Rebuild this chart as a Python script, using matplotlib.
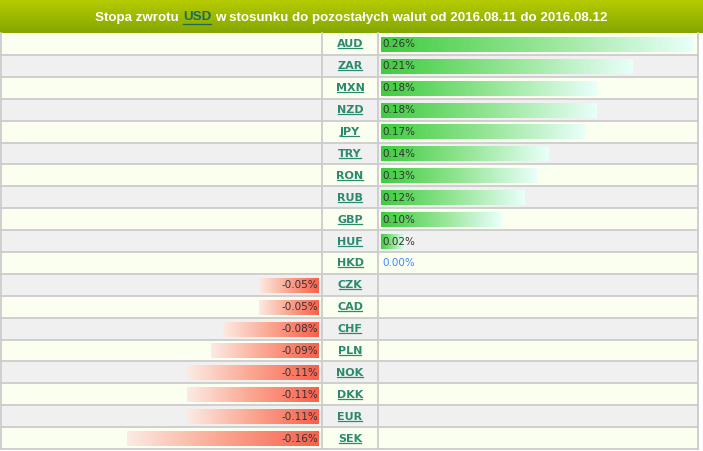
import numpy as np
import matplotlib.pyplot as plt
from matplotlib.colors import LinearSegmentedColormap

# dane: stopa zwrotu USD wzgledem walut
currencies = ['AUD', 'ZAR', 'MXN', 'NZD', 'JPY', 'TRY', 'RON', 'RUB', 'GBP', 'HUF',
              'HKD', 'CZK', 'CAD', 'CHF', 'PLN', 'NOK', 'DKK', 'EUR', 'SEK']
returns = [0.26, 0.21, 0.18, 0.18, 0.17, 0.14, 0.13, 0.12, 0.10, 0.02,
           0.00, -0.05, -0.05, -0.08, -0.09, -0.11, -0.11, -0.11, -0.16]
title_parts = ['Stopa zwrotu', 'USD', 'w stosunku do pozostałych walut od 2016.08.11 do 2016.08.12']

W, H = 703, 451
head_h = 33
row_h = 21.9
left, right = 1, 698
col1, col2 = 322, 378
scale = 1200  # px na 1%

green = LinearSegmentedColormap.from_list('g', ['#3fcc3f', '#93e593', '#e9fffa'])
red = LinearSegmentedColormap.from_list('r', ['#fbebe4', '#fba58f', '#f8604c'])
grad = np.linspace(0, 1, 256).reshape(1, -1)

fig = plt.figure(figsize=(W / 100, H / 100), dpi=100)
ax = fig.add_axes([0, 0, 1, 1])
ax.axis('off')

# naglowek
hgrad = np.linspace(0, 1, 64).reshape(-1, 1)
head_cmap = LinearSegmentedColormap.from_list('h', ['#b6cc00', '#84a600'])
ax.imshow(hgrad, cmap=head_cmap, aspect='auto', extent=(0, W, head_h, 0), zorder=1)

lc = '#cccccc'
for i, (cur, val) in enumerate(zip(currencies, returns)):
    y0 = head_h + i * row_h
    bg = '#fafff0' if i % 2 == 0 else '#f0f0f0'
    ax.fill_between([left, right], y0, y0 + row_h, color=bg, lw=0, zorder=1)
    yc = y0 + row_h / 2 + 0.5
    bt, bb = y0 + 4, y0 + row_h - 3
    if val > 0:
        ax.imshow(grad, cmap=green, aspect='auto', extent=(col2 + 3, col2 + 3 + val * scale, bb, bt), zorder=2)
        ax.text(col2 + 4, yc, f'{val:.2f}%', ha='left', va='center', fontsize=7.5, color='#333333', zorder=3)
    elif val < 0:
        ax.imshow(grad, cmap=red, aspect='auto', extent=(col1 - 3 + val * scale, col1 - 3, bb, bt), zorder=2)
        ax.text(col1 - 4, yc, f'{val:.2f}%', ha='right', va='center', fontsize=7.5, color='#333333', zorder=3)
    else:
        ax.text(col2 + 4, yc, f'{val:.2f}%', ha='left', va='center', fontsize=7.5, color='#3f88ff', zorder=3)
    ax.text((col1 + col2) / 2, yc, cur, ha='center', va='center', fontsize=8, fontweight='bold',
            color='#2b8a6e', zorder=3)
    ax.plot([left, right], [y0 + row_h, y0 + row_h], color=lc, lw=1.3, zorder=4)

# linie pionowe
for x in [left, col1, col2, right]:
    ax.plot([x, x], [head_h, head_h + len(currencies) * row_h], color=lc, lw=1.3, zorder=4)

ax.set_xlim(0, W)
ax.set_ylim(H, 0)

# podkreslenia pod kodami walut
fig.canvas.draw()
r = fig.canvas.get_renderer()
inv = ax.transData.inverted()
for t in list(ax.texts):
    if t.get_text() in currencies:
        bb = t.get_window_extent(r)
        (x0, yb), (x1, _) = inv.transform([(bb.x0, bb.y0), (bb.x1, bb.y1)])
        ax.plot([x0 + 1, x1 - 1], [yb - 1, yb - 1], color='#2b8a6e', lw=0.9, zorder=4)

# tytul z wyroznionym USD
kw = dict(fontsize=9.6, fontweight='bold', va='center', zorder=3, family='Liberation Sans')
gap = 4
widths = []
for p in title_parts:
    t = ax.text(0, 0, p, **kw)
    bb = t.get_window_extent(r)
    widths.append(bb.width)
    t.remove()
x = W / 2 - (sum(widths) + gap * (len(widths) - 1)) / 2
ty = head_h / 2 + 1
for p, w in zip(title_parts, widths):
    col = '#1b6b55' if p == 'USD' else 'white'
    ax.text(x, ty, p, ha='left', color=col, **kw)
    if p == 'USD':
        ax.plot([x + 0.5, x + w - 0.5], [ty + 6.5, ty + 6.5], color=col, lw=0.9, zorder=4)
    x += w + gap

fig.savefig('out.png', dpi=100)
